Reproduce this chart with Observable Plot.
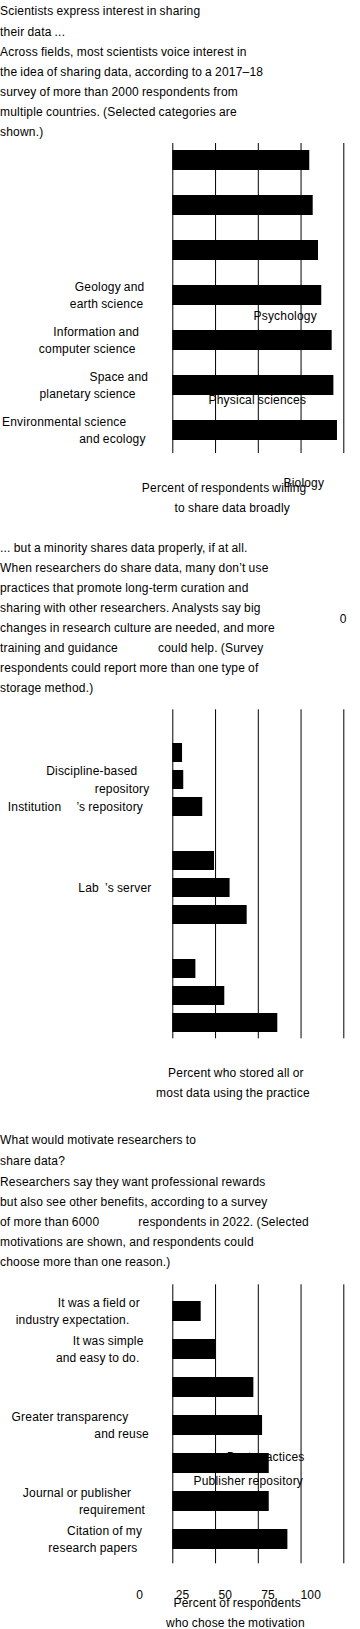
<!DOCTYPE html>
<html>
<head>
<meta charset="utf-8">
<script src="https://cdn.jsdelivr.net/npm/d3@7"></script>
<script src="https://cdn.jsdelivr.net/npm/@observablehq/plot@0.6"></script>
<style>
  html, body { margin: 0; padding: 0; background: #fff; overflow: hidden; }
  body { font-family: "Liberation Sans", Arial, Helvetica, sans-serif; font-size: 12px; color: #000; letter-spacing: 0.2px; word-spacing: -0.5px; }
  #page { position: relative; width: 360px; height: 1629px; overflow: hidden; }
  .blk { position: absolute; left: 0; width: 360px; white-space: nowrap; }
  .t { line-height: 21px; }
  .s { line-height: 20px; }
  .gap { display: inline-block; }
  .fig { position: absolute; left: 0; }
  .fig text { letter-spacing: 0.2px; word-spacing: -0.5px; }
  .stray { position: absolute; line-height: 14px; }
</style>
</head>
<body>
<div id="page"></div>
<script>
// ---------------- DATA ----------------
const xTicks = [0, 25, 50, 75, 100];

// Chart 1
const title1 = ["Scientists express interest in sharing", "their data ..."];
const subtitle1 = [
  "Across fields, most scientists voice interest in",
  "the idea of sharing data, according to a 2017\u201318",
  "survey of more than 2000 respondents from",
  "multiple countries. (Selected categories are",
  "shown.)"
];
const fields = [
  "Psychology",
  "Physical sciences",
  "Biology",
  "Geology and earth science",
  "Information and computer science",
  "Space and planetary science",
  "Environmental science and ecology"
];
const fieldLabels = [
  null, null, null,
  "Geology and\nearth science",
  "Information and\ncomputer science",
  "Space and\nplanetary science",
  "Environmental science\nand ecology"
];
const willingPct = [80.1, 82.1, 85.2, 87.1, 93.2, 94.2, 96.3];
const xTitle1 = "Percent of respondents willing\nto share data broadly";

// Chart 2
const title2 = ["... but a minority shares data properly, if at all."];
const subtitle2 = [
  "When researchers do share data, many don\u2019t use",
  "practices that promote long-term curation and",
  "sharing with other researchers. Analysts say big",
  "changes in research culture are needed, and more",
  ["training and guidance", "could help. (Survey"],
  "respondents could report more than one type of",
  "storage method.)"
];
const storageGroups = ["Best practices", "Common practices", "Risky practices"];
const storage = [
  "Publisher repository",
  "Discipline-based repository",
  "Institution\u2019s repository",
  "Personal cloud",
  "Lab\u2019s server",
  "Institution\u2019s server",
  "Email",
  "External drive",
  "Personal computer"
];
const storageGroupOf = [0, 0, 0, 1, 1, 1, 2, 2, 2];
const storageLabels = [
  null,
  "Discipline-based\nrepository",
  "Institution\u00a0\u00a0\u00a0\u00a0\u00a0\u2019s repository",
  null,
  "Lab\u00a0\u00a0\u2019s server",
  null, null, null, null
];
const storedPct = [5.7, 6.4, 17.5, 24.4, 33.5, 43.5, 13.5, 30.4, 61.4];
const xTitle2 = "Percent who stored all or\nmost data using the practice";
const strayTick = "0";

// Chart 3
const title3 = ["What would motivate researchers to", "share data?"];
const subtitle3 = [
  "Researchers say they want professional rewards",
  "but also see other benefits, according to a survey",
  ["of more than 6000", "respondents in 2022. (Selected"],
  "motivations are shown, and respondents could",
  "choose more than one reason.)"
];
const motivations = [
  "It was a field or industry expectation.",
  "It was simple and easy to do.",
  "It benefits my career.",
  "Greater transparency and reuse",
  "It is good research practice.",
  "Journal or publisher requirement",
  "Citation of my research papers"
];
const motivationLabels = [
  "It was a field or\nindustry expectation.",
  "It was simple\nand easy to do.",
  null,
  "Greater transparency\nand reuse",
  null,
  "Journal or publisher\nrequirement",
  "Citation of my\nresearch papers"
];
const chosePct = [16.6, 25.4, 47.4, 52.5, 56.4, 56.4, 67.3];
const xTitle3 = "Percent of respondents\nwho chose the motivation";

// ---------------- HELPERS ----------------
const FONT = '"Liberation Sans", Arial, Helvetica, sans-serif';
const page = document.getElementById("page");
const K = 1.33; // text placed as if glyphs were ~33% wider

function block(lines, cls, top, gapW) {
  const div = document.createElement("div");
  div.className = "blk " + cls;
  div.style.top = top + "px";
  for (const ln of lines) {
    const row = document.createElement("div");
    if (Array.isArray(ln)) {
      ln.forEach((seg, i) => {
        if (i) {
          const g = document.createElement("span");
          g.className = "gap";
          g.style.width = gapW + "px";
          row.appendChild(g);
        }
        row.appendChild(document.createTextNode(seg));
      });
    } else row.textContent = ln;
    div.appendChild(row);
  }
  page.appendChild(div);
}

const ctx = document.createElement("canvas").getContext("2d");
ctx.font = "12px " + FONT;
function widthOf(s) {
  const t = s.replace(/\u00a0/g, "");
  const spaces = (t.match(/ /g) || []).length;
  return ctx.measureText(t).width + 0.2 * t.length - 0.5 * spaces;
}
// shift every line of matching texts to where a wider font would have put it
function skew(svg, strings, frac) {
  const keys = new Set(strings.filter(Boolean).map((s) => s.replace(/\n/g, "")));
  svg.querySelectorAll("text").forEach((t) => {
    if (!keys.has(t.textContent)) return;
    const spans = t.querySelectorAll("tspan");
    (spans.length ? [...spans] : [t]).forEach((el) =>
      el.setAttribute("x", (-K * widthOf(el.textContent) * frac).toFixed(2))
    );
  });
}
function place(svg, top) {
  svg.classList.add("fig");
  svg.style.top = top + "px";
  page.appendChild(svg);
}
const baseStyle = { fontFamily: FONT, fontSize: "12px", color: "#000", background: "transparent", overflow: "visible" };
const ML = 172.3, MR = 16.7;
const one = (v) => () => v;

// ---------------- TEXT BLOCKS ----------------
block(title1, "t", 1);
block(subtitle1, "s", 42);
block(title2, "t", 538);
block(subtitle2, "s", 558, 40);
block(title3, "t", 1129.5);
block(subtitle3, "s", 1171.7, 39);
{
  const s = document.createElement("div");
  s.className = "stray";
  s.style.left = "339.7px";
  s.style.top = "612px";
  s.textContent = strayTick;
  page.appendChild(s);
}

// ---------------- CHART 1 ----------------
const t1 = fields.map((f, i) => ({ field: f, label: fieldLabels[i], value: willingPct[i] }));
const fig1 = Plot.plot({
  width: 360, height: 390,
  marginTop: 13, marginBottom: 67, marginLeft: ML, marginRight: MR,
  style: baseStyle,
  x: { domain: [0, 100], axis: null },
  y: { domain: fields, axis: null, paddingInner: 0.557, paddingOuter: 0.2785, insetTop: -6.5, insetBottom: 0.5 },
  marks: [
    Plot.ruleX(xTicks, { stroke: "#000", strokeWidth: 1 }),
    Plot.barX(t1, { x: "value", y: "field", fill: "#000" }),
    Plot.text(t1.filter((d) => d.label), {
      y: "field", text: "label", frameAnchor: "left", dx: 167 - ML,
      textAnchor: "start", lineAnchor: "middle", lineHeight: 1.47, dy: -1.8
    }),
    Plot.text([fields[0]], { x: one(47.2), y: one(fields[3]), dy: 20.5, text: (d) => d, textAnchor: "start", lineAnchor: "middle" }),
    Plot.text([fields[1]], { x: one(20.9), y: one(fields[5]), dy: 14.2, text: (d) => d, textAnchor: "start", lineAnchor: "middle" }),
    Plot.text([fields[2]], { x: one(64.7), y: one(fields[6]), dy: 53, text: (d) => d, textAnchor: "start", lineAnchor: "middle" }),
    Plot.text([xTitle1], {
      text: (d) => d, frameAnchor: "bottom", dx: -7, dy: 44.3 - 2.6, textAnchor: "start",
      lineAnchor: "middle", lineHeight: 1.667
    })
  ]
});
place(fig1, 130);
skew(fig1, fieldLabels, 1);
skew(fig1, [xTitle1], 0.5);

// ---------------- CHART 2 ----------------
const t2 = storage.map((s, i) => ({ key: s, label: storageLabels[i], value: storedPct[i] }));
const domain2 = [];
storageGroups.forEach((g, gi) => {
  domain2.push(g);
  storage.forEach((s, i) => { if (storageGroupOf[i] === gi) domain2.push(s); });
});
const fig2 = Plot.plot({
  width: 360, height: 410,
  marginTop: 9.3, marginBottom: 71.7, marginLeft: ML, marginRight: MR,
  style: baseStyle,
  x: { domain: [0, 100], axis: null },
  y: { domain: domain2, axis: null, paddingInner: 0.307, paddingOuter: 0.1535 },
  marks: [
    Plot.ruleX(xTicks, { stroke: "#000", strokeWidth: 1 }),
    Plot.barX(t2, { x: "value", y: "key", fill: "#000" }),
    Plot.text(t2.filter((d) => d.label), {
      y: "key", text: "label", frameAnchor: "left", dx: 167 - ML,
      textAnchor: "start", lineAnchor: "middle", lineHeight: 1.47, dy: -1.8
    }),
    Plot.text([xTitle2], {
      text: (d) => d, frameAnchor: "bottom", dy: 44.7 - 2.6, textAnchor: "start",
      lineAnchor: "middle", lineHeight: 1.667
    })
  ]
});
place(fig2, 700);
skew(fig2, storageLabels, 1);
skew(fig2, [xTitle2], 0.5);

// ---------------- CHART 3 ----------------
const t3 = motivations.map((m, i) => ({ key: m, label: motivationLabels[i], value: chosePct[i] }));
const fig3 = Plot.plot({
  width: 360, height: 354,
  marginTop: 9.3, marginBottom: 65.7, marginLeft: ML, marginRight: MR,
  style: baseStyle,
  x: { domain: [0, 100], label: null },
  y: { domain: motivations, axis: null, paddingInner: 0.478, paddingOuter: 0.239, insetTop: 6.7, insetBottom: 4.2 },
  marks: [
    Plot.ruleX(xTicks, { stroke: "#000", strokeWidth: 1 }),
    Plot.axisX({ ticks: xTicks, anchor: "bottom", tickSize: 0, tickPadding: 26.4, dx: -33, label: null, fontSize: 12 }),
    Plot.barX(t3, { x: "value", y: "key", fill: "#000" }),
    Plot.text([storage[0]], { x: one(12.1), y: one(motivations[4]), dy: 17.7, text: (d) => d, textAnchor: "start", lineAnchor: "middle" }),
    Plot.text([storageGroups[0]], { x: one(77), y: one(motivations[4]), dy: -6.3, text: (d) => d, textAnchor: "end", lineAnchor: "middle" }),
    Plot.text(t3.filter((d) => d.label), {
      y: "key", text: "label", frameAnchor: "left", dx: 166.5 - ML,
      textAnchor: "start", lineAnchor: "middle", lineHeight: 1.47, dy: -1.8
    }),
    Plot.text([xTitle3], {
      text: (d) => d, frameAnchor: "bottom", dy: 49.2 - 2.6, textAnchor: "start",
      lineAnchor: "middle", lineHeight: 1.667
    })
  ]
});
place(fig3, 1275);
skew(fig3, motivationLabels, 1);
skew(fig3, [xTitle3], 0.5);
</script>
</body>
</html>
